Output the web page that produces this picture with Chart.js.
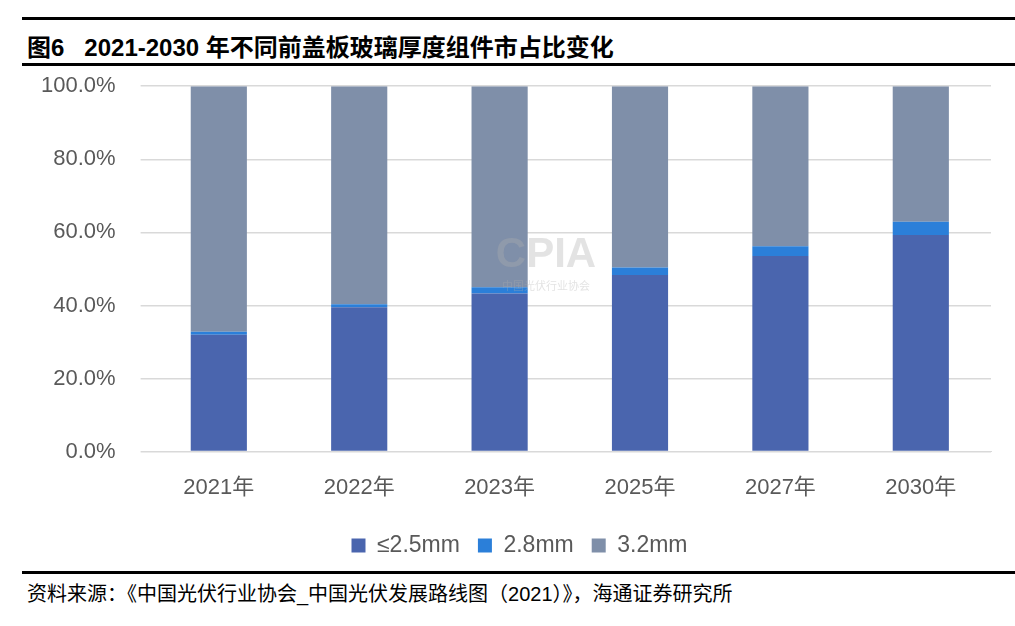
<!DOCTYPE html>
<html>
<head>
<meta charset="utf-8">
<script src="https://cdn.jsdelivr.net/npm/chart.js@4/dist/chart.umd.min.js"></script>
<style>
  body { margin: 0; background: #fff; width: 1015px; height: 626px; position: relative; overflow: hidden; font-family: "Liberation Sans", "Noto Sans CJK SC", sans-serif; }
  .rule { position: absolute; left: 22px; right: 0; height: 3px; background: #000; }
  #title { position: absolute; left: 27px; top: 28px; font: bold 24px "Liberation Sans", "Noto Sans CJK SC", sans-serif; color: #000; white-space: pre; }
  #src { position: absolute; left: 27px; top: 578px; font: 20px "Liberation Sans", "Noto Sans CJK SC", sans-serif; color: #000; white-space: pre; }
  #box { position: absolute; left: 0; top: 48px; width: 1015px; height: 522px; }
</style>
</head>
<body>
<div class="rule" style="top:17px"></div>
<div id="title">图6   2021-2030 年不同前盖板玻璃厚度组件市占比变化</div>
<div class="rule" style="top:63px"></div>
<div id="box"><canvas id="barChart"></canvas></div>
<div class="rule" style="top:571px"></div>
<div id="src">资料来源：《中国光伏行业协会_中国光伏发展路线图（2021）》，海通证券研究所</div>
<script>
// du lieu doc tu hinh
const years = ['2021年', '2022年', '2023年', '2025年', '2027年', '2030年'];
const thin25 = [32.0, 39.5, 43.3, 48.3, 53.5, 59.3];
const mid28 = [0.8, 0.8, 1.7, 2.1, 2.7, 3.6];
const thick32 = [67.2, 59.7, 55.0, 49.6, 43.8, 37.1];
const seriesNames = ['≤2.5mm', '2.8mm', '3.2mm'];
const yTicks = [0, 20, 40, 60, 80, 100];

const fontFam = '"Liberation Sans", "Noto Sans CJK SC", sans-serif';

// watermark mo nhat
const watermark = {
    id: 'watermark',
    afterDatasetsDraw(chart) {
        const c = chart.ctx;
        c.save();
        c.globalAlpha = 0.35;
        c.fillStyle = '#b0b0b0';
        c.textAlign = 'center';
        c.font = 'bold 42px ' + fontFam;
        c.fillText('CPIA', 546, 207);
        c.font = '11px ' + fontFam;
        c.fillText('中国光伏行业协会', 546, 239);
        c.restore();
    }
};

// day legend sang phai mot chut cho giong hinh goc
const legendShift = {
    id: 'legendShift',
    afterLayout(chart) {
        chart.legend.left += 16;
        chart.legend.right += 16;
    }
};

const ctx = document.getElementById('barChart').getContext('2d');
const myChart = new Chart(ctx, {
    type: 'bar',
    data: {
        labels: years,
        datasets: [
            { label: seriesNames[0], data: thin25, backgroundColor: '#4a65ae' },
            { label: seriesNames[1], data: mid28, backgroundColor: '#2b7fd9' },
            { label: seriesNames[2], data: thick32, backgroundColor: '#7f8fa9' }
        ]
    },
    options: {
        responsive: true,
        maintainAspectRatio: false,
        animation: false,
        layout: { padding: { top: 0, right: 24, left: 16, bottom: 3 } },
        datasets: { bar: { categoryPercentage: 1, barPercentage: 0.4 } },
        scales: {
            x: {
                stacked: true,
                grid: { display: false },
                border: { color: '#d9d9d9' },
                ticks: { color: '#595959', font: { size: 22, family: fontFam }, padding: 15 }
            },
            y: {
                stacked: true,
                min: 0,
                max: 100,
                afterBuildTicks: axis => { axis.ticks = yTicks.map(v => ({ value: v })); },
                grid: { color: '#d9d9d9', lineWidth: 1.5 },
                border: { display: false },
                ticks: {
                    color: '#595959',
                    font: { size: 22, family: fontFam },
                    padding: 25,
                    callback: v => v.toFixed(1) + '%'
                }
            }
        },
        plugins: {
            legend: {
                position: 'bottom',
                labels: {
                    color: '#595959',
                    font: { size: 23, family: fontFam },
                    boxWidth: 14,
                    boxHeight: 14,
                    padding: 18
                }
            },
            tooltip: { enabled: false }
        }
    },
    plugins: [watermark, legendShift]
});
</script>
</body>
</html>
